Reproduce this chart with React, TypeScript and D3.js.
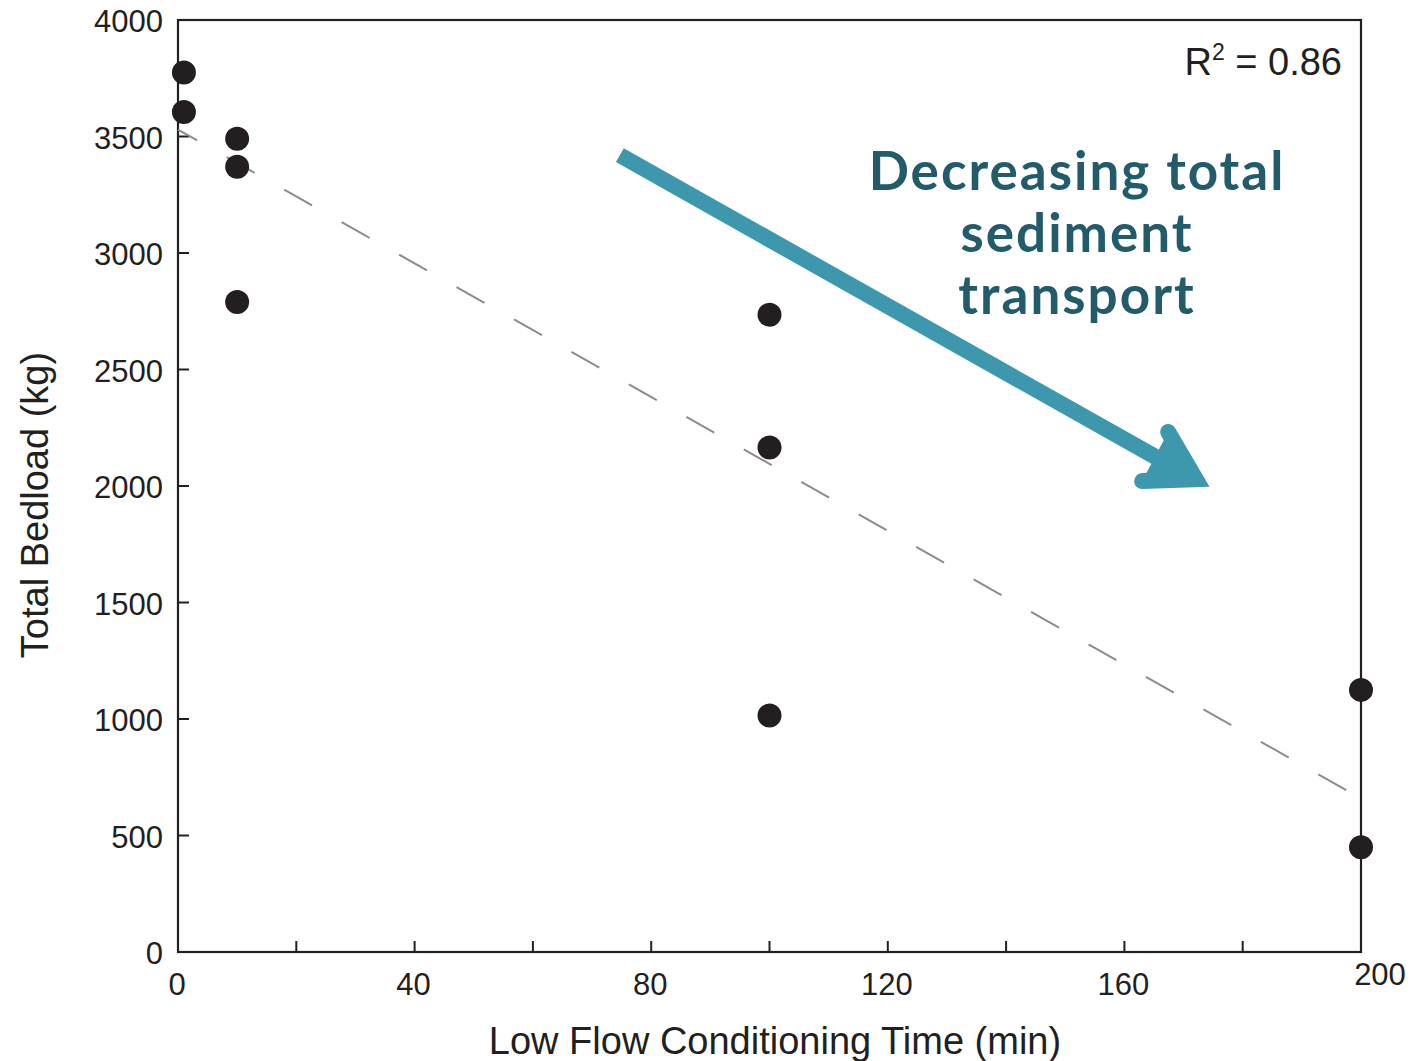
import * as d3 from "d3";
import { useEffect, useRef } from "react";

// measured points (min, kg)
const timeMin = [1, 1, 10, 10, 10, 100, 100, 100, 200, 200];
const bedloadKg = [3775, 3605, 3490, 3370, 2790, 2735, 2165, 1015, 1125, 450];

// dashed regression line, end points
const fitX = [0, 198];
const fitY = [3530, 688];

const xTicks = [0, 20, 40, 60, 80, 100, 120, 140, 160, 180, 200];
const xLabels = [0, 40, 80, 120, 160, 200];
const yTicks = [0, 500, 1000, 1500, 2000, 2500, 3000, 3500, 4000];

// annotation arrow in data units: start, tip, arm ends
const arrowStart = [74.7, 3420];
const arrowTip = [175.2, 1985];
const arrowArms = [
  [167.4, 2232],
  [163.0, 2021],
];
const noteLines = ["Decreasing total", "sediment", "transport"];

const INK = "#231f20";
const ARROW = "#3d98ad";
const NOTE = "#225b69";
const SANS = "'Liberation Sans', Arial, Helvetica, sans-serif";

export default function App() {
  const ref = useRef<SVGSVGElement | null>(null);

  useEffect(() => {
    const svg = d3.select(ref.current);
    svg.selectAll("*").remove();

    const x = d3.scaleLinear().domain([0, 200]).range([178, 1361]);
    const y = d3.scaleLinear().domain([0, 4000]).range([952, 20]);
    const [x0, x1] = x.range();
    const [y0, y1] = y.range();

    // frame
    svg
      .append("rect")
      .attr("x", x0)
      .attr("y", y1)
      .attr("width", x1 - x0)
      .attr("height", y0 - y1)
      .attr("fill", "none")
      .attr("stroke", INK)
      .attr("stroke-width", 2.2);

    // ticks, pointing inward
    svg
      .append("g")
      .selectAll("line")
      .data(xTicks.slice(1, -1))
      .join("line")
      .attr("x1", (d) => x(d))
      .attr("x2", (d) => x(d))
      .attr("y1", y0)
      .attr("y2", y0 - 11)
      .attr("stroke", INK)
      .attr("stroke-width", 2);

    svg
      .append("g")
      .selectAll("line")
      .data(yTicks.slice(1, -1))
      .join("line")
      .attr("x1", x0)
      .attr("x2", x0 + 11)
      .attr("y1", (d) => y(d))
      .attr("y2", (d) => y(d))
      .attr("stroke", INK)
      .attr("stroke-width", 2);

    // tick labels
    svg
      .append("g")
      .selectAll("text")
      .data(xLabels)
      .join("text")
      .attr("x", (d) => (d === 200 ? x(d) + 19 : x(d) - 1))
      .attr("y", (d) => (d === 200 ? y0 + 33 : y0 + 43))
      .attr("text-anchor", "middle")
      .attr("font-family", SANS)
      .attr("font-size", 31)
      .attr("fill", INK)
      .text((d) => d);

    svg
      .append("g")
      .selectAll("text")
      .data(yTicks)
      .join("text")
      .attr("x", x0 - 15)
      .attr("y", (d) => y(d) + 12)
      .attr("text-anchor", "end")
      .attr("font-family", SANS)
      .attr("font-size", 31)
      .attr("fill", INK)
      .text((d) => d);

    // axis titles
    svg
      .append("text")
      .attr("x", 775)
      .attr("y", 1054)
      .attr("text-anchor", "middle")
      .attr("font-family", SANS)
      .attr("font-size", 38)
      .attr("fill", INK)
      .text("Low Flow Conditioning Time (min)");

    svg
      .append("text")
      .attr("transform", `translate(48,505) rotate(-90)`)
      .attr("text-anchor", "middle")
      .attr("font-family", SANS)
      .attr("font-size", 38)
      .attr("fill", INK)
      .text("Total Bedload (kg)");

    // fit line
    const line = d3
      .line<number>()
      .x((d) => x(d))
      .y((_, i) => y(fitY[i]));
    svg
      .append("path")
      .attr("d", line(fitX))
      .attr("fill", "none")
      .attr("stroke", "#8c8c8c")
      .attr("stroke-width", 2)
      .attr("stroke-dasharray", "32 34")
      .attr("stroke-dashoffset", 10);

    // points
    svg
      .append("g")
      .selectAll("circle")
      .data(timeMin.map((t, i) => [t, bedloadKg[i]]))
      .join("circle")
      .attr("cx", (d) => x(d[0]))
      .attr("cy", (d) => y(d[1]))
      .attr("r", 12)
      .attr("fill", INK);

    // R^2
    const r2 = svg
      .append("text")
      .attr("x", x1 - 19)
      .attr("y", 75)
      .attr("text-anchor", "end")
      .attr("font-family", SANS)
      .attr("font-size", 38)
      .attr("fill", INK);
    r2.append("tspan").text("R");
    r2.append("tspan").attr("dy", -15).attr("font-size", 23).text("2");
    r2.append("tspan").attr("dy", 15).text(" = 0.86");

    // arrow
    const sx = x(arrowStart[0]);
    const sy = y(arrowStart[1]);
    const tx = x(arrowTip[0]);
    const ty = y(arrowTip[1]);
    const arms = arrowArms.map((a) => [x(a[0]), y(a[1])]);
    const angs = arms.map((a) => Math.atan2(a[1] - ty, a[0] - tx));
    const half = Math.abs(angs[0] - angs[1]) / 2;
    const bis = (angs[0] + angs[1]) / 2;
    const back = 8 / Math.sin(half);
    const vx = tx + Math.cos(bis) * back;
    const vy = ty + Math.sin(bis) * back;

    svg
      .append("line")
      .attr("x1", sx)
      .attr("y1", sy)
      .attr("x2", vx - 6)
      .attr("y2", vy - 3)
      .attr("stroke", ARROW)
      .attr("stroke-width", 16);

    svg
      .append("path")
      .attr("d", `M${arms[0][0]},${arms[0][1]}L${vx},${vy}L${arms[1][0]},${arms[1][1]}`)
      .attr("fill", ARROW)
      .attr("stroke", ARROW)
      .attr("stroke-width", 16)
      .attr("stroke-linecap", "round")
      .attr("stroke-linejoin", "miter");

    // note
    svg
      .append("g")
      .selectAll("text")
      .data(noteLines)
      .join("text")
      .attr("x", 1077)
      .attr("y", (_, i) => 190 + i * 62)
      .attr("text-anchor", "middle")
      .attr("font-family", "Lato, 'Open Sans', sans-serif")
      .attr("font-weight", 700)
      .attr("font-size", 53)
      .attr("letter-spacing", 2)
      .attr("fill", NOTE)
      .text((d) => d);
  }, []);

  return (
    <svg
      ref={ref}
      width={1412}
      height={1061}
      style={{ position: "absolute", left: 0, top: 0, background: "#fff" }}
    />
  );
}
